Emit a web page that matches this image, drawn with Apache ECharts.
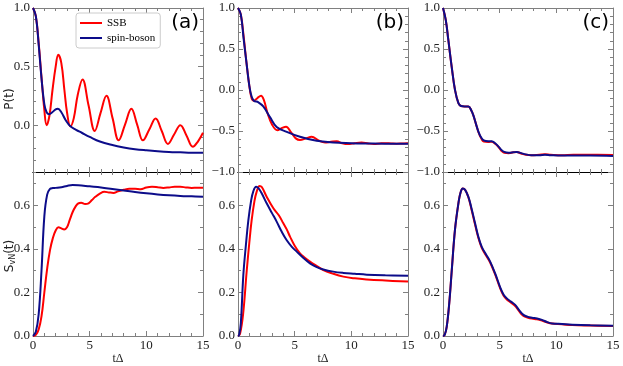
<!DOCTYPE html>
<html style="height: 100%">
<head>
<meta charset="utf-8">
<script src="https://cdn.jsdelivr.net/npm/echarts@6/dist/echarts.min.js"></script>
</head>
<body style="height: 100%; margin: 0; background: #fff">
<div id="container" style="width: 623px; height: 366px"></div>
<script>
// time axis tick labels
var xTicks = [0, 5, 10, 15];

// P(t) tick values
var yMajorPa = [0, 0.5, 1.0];
var yMinorPa = [-0.4, -0.3, -0.2, -0.1, 0.1, 0.2, 0.3, 0.4, 0.6, 0.7, 0.8, 0.9];
var yMajorP = [-1.0, -0.5, 0, 0.5, 1.0];
var yMinorP = [-0.9, -0.8, -0.7, -0.6, -0.4, -0.3, -0.2, -0.1, 0.1, 0.2, 0.3, 0.4, 0.6, 0.7, 0.8, 0.9];
// S_vN(t) tick values
var yMajorS = [0, 0.2, 0.4, 0.6];
var yMinorS = [0.1, 0.3, 0.5, 0.7];

var seriesNames = ['SSB', 'spin-boson'];
var panelTags = ['(a)', '(b)', '(c)'];

// panel (a)
var aP_SSB = [[0,1],[0.25,0.93],[0.5,0.7],[0.75,0.41],[1.0,0.13],[1.2,0.0],[1.45,0.08],[1.72,0.3],[2.0,0.5],[2.23,0.6],[2.5,0.53],[2.77,0.3],[3.0,0.11],[3.3,-0.01],[3.6,0.06],[3.95,0.26],[4.37,0.39],[4.9,0.17],[5.45,-0.05],[5.95,0.1],[6.48,0.25],[7.02,0.06],[7.56,-0.13],[8.12,0.005],[8.68,0.14],[9.19,0.005],[9.7,-0.13],[10.26,-0.037],[10.82,0.057],[11.36,-0.05],[11.9,-0.16],[12.45,-0.08],[13.0,0.0],[13.55,-0.09],[14.1,-0.185],[14.55,-0.14],[15,-0.065]];
var aP_SB = [[0,1],[0.25,0.93],[0.5,0.69],[0.75,0.4],[1.0,0.18],[1.2,0.11],[1.41,0.094],[1.7,0.11],[2.0,0.135],[2.2,0.14],[2.5,0.11],[2.9,0.04],[3.3,-0.01],[3.8,-0.04],[4.3,-0.065],[5.0,-0.1],[5.9,-0.14],[7.0,-0.17],[8.0,-0.19],[9.0,-0.205],[10,-0.215],[11,-0.223],[12,-0.229],[13,-0.232],[14,-0.235],[15,-0.236]];
var aS_SSB = [[0,0],[0.25,0.005],[0.5,0.03],[0.75,0.09],[1.0,0.2],[1.25,0.31],[1.5,0.395],[1.75,0.45],[2.0,0.485],[2.25,0.5],[2.5,0.495],[2.75,0.49],[3.0,0.5],[3.25,0.535],[3.5,0.57],[3.75,0.595],[4.0,0.61],[4.25,0.613],[4.6,0.607],[4.9,0.61],[5.2,0.625],[5.5,0.64],[5.9,0.655],[6.3,0.663],[6.7,0.66],[7.1,0.658],[7.5,0.665],[8.0,0.672],[8.5,0.677],[9.0,0.677],[9.5,0.675],[10.0,0.683],[10.5,0.686],[11,0.684],[11.5,0.681],[12,0.683],[12.5,0.686],[13,0.686],[13.5,0.683],[14,0.681],[14.5,0.682],[15,0.682]];
var aS_SB = [[0,0],[0.25,0.02],[0.5,0.1],[0.75,0.3],[1.0,0.55],[1.25,0.65],[1.5,0.676],[1.75,0.68],[2.0,0.681],[2.5,0.684],[3.0,0.69],[3.5,0.694],[4.0,0.693],[5.0,0.688],[6.0,0.683],[7.0,0.676],[8.0,0.669],[9.0,0.662],[10,0.656],[11,0.651],[12,0.647],[13,0.644],[14,0.642],[15,0.64]];

// panel (b)
var bP_SSB = [[0,1],[0.25,0.92],[0.5,0.65],[0.75,0.33],[1.0,0.05],[1.2,-0.1],[1.4,-0.13],[1.7,-0.1],[2.03,-0.07],[2.3,-0.13],[2.6,-0.28],[3.0,-0.42],[3.47,-0.49],[3.85,-0.465],[4.24,-0.447],[4.7,-0.52],[5.1,-0.59],[5.47,-0.61],[6.0,-0.59],[6.5,-0.57],[7.1,-0.615],[7.68,-0.64],[8.2,-0.632],[8.71,-0.626],[9.2,-0.65],[9.7,-0.66],[10.3,-0.648],[10.9,-0.64],[11.5,-0.652],[12,-0.658],[12.5,-0.652],[13,-0.648],[13.5,-0.652],[14,-0.655],[14.5,-0.652],[15,-0.65]];
var bP_SB = [[0,1],[0.25,0.92],[0.5,0.62],[0.75,0.33],[1.0,0.05],[1.2,-0.08],[1.4,-0.13],[1.8,-0.15],[2.23,-0.2],[2.82,-0.33],[3.41,-0.45],[4.3,-0.51],[5.47,-0.57],[6.94,-0.62],[8.4,-0.64],[10,-0.648],[11.4,-0.652],[13,-0.655],[15,-0.655]];
var bS_SSB = [[0,0],[0.18,0.01],[0.45,0.1],[0.77,0.3],[1.0,0.43],[1.2,0.53],[1.45,0.62],[1.65,0.664],[1.9,0.69],[2.1,0.685],[2.53,0.64],[3.12,0.587],[3.6,0.555],[4.0,0.518],[4.3,0.49],[4.59,0.457],[5.0,0.415],[5.47,0.38],[5.9,0.36],[6.35,0.342],[7.0,0.32],[7.53,0.303],[8.3,0.288],[9.3,0.273],[10.3,0.265],[11.36,0.26],[13,0.255],[15,0.25]];
var bS_SB = [[0,0],[0.1,0.005],[0.25,0.06],[0.47,0.28],[0.7,0.42],[0.91,0.53],[1.15,0.62],[1.35,0.665],[1.6,0.686],[1.8,0.68],[2.1,0.655],[2.53,0.61],[3.0,0.565],[3.41,0.526],[3.85,0.48],[4.3,0.44],[4.75,0.41],[5.18,0.388],[5.75,0.36],[6.35,0.334],[6.9,0.318],[7.53,0.306],[8.4,0.296],[9.3,0.29],[10.3,0.286],[11.36,0.282],[13,0.279],[15,0.277]];

// panel (c)
var cP_SSB = [[0,1],[0.25,0.85],[0.47,0.61],[0.77,0.28],[1.06,0.0],[1.36,-0.16],[1.6,-0.195],[1.9,-0.2],[2.24,-0.2],[2.5,-0.25],[2.68,-0.31],[2.9,-0.41],[3.13,-0.515],[3.37,-0.59],[3.6,-0.63],[4.0,-0.635],[4.3,-0.63],[4.6,-0.655],[4.9,-0.695],[5.15,-0.74],[5.4,-0.765],[5.8,-0.77],[6.2,-0.76],[6.5,-0.755],[6.9,-0.775],[7.3,-0.79],[7.8,-0.795],[8.5,-0.79],[9.0,-0.785],[9.5,-0.79],[10.5,-0.795],[11.5,-0.79],[13,-0.79],[15,-0.792]];
var cP_SB = [[0,1],[0.25,0.85],[0.47,0.61],[0.77,0.28],[1.06,0.0],[1.36,-0.16],[1.6,-0.195],[1.9,-0.2],[2.24,-0.2],[2.5,-0.25],[2.68,-0.31],[2.9,-0.41],[3.13,-0.51],[3.37,-0.58],[3.6,-0.615],[4.0,-0.625],[4.3,-0.625],[4.6,-0.65],[4.9,-0.69],[5.15,-0.73],[5.4,-0.755],[5.8,-0.765],[6.2,-0.76],[6.5,-0.755],[6.9,-0.77],[7.3,-0.785],[7.8,-0.795],[8.5,-0.795],[9.0,-0.79],[9.5,-0.795],[10.5,-0.8],[11.5,-0.8],[13,-0.8],[15,-0.805]];
var cS_SSB = [[0,0],[0.15,0.005],[0.33,0.043],[0.55,0.15],[0.77,0.3],[1.06,0.49],[1.36,0.61],[1.55,0.66],[1.75,0.678],[1.95,0.672],[2.24,0.638],[2.5,0.585],[2.83,0.512],[3.1,0.455],[3.42,0.405],[3.8,0.37],[4.16,0.338],[4.6,0.283],[5.04,0.22],[5.35,0.185],[5.63,0.168],[6.0,0.153],[6.37,0.138],[6.7,0.115],[7.1,0.092],[7.5,0.084],[7.85,0.08],[8.3,0.077],[8.73,0.071],[9.2,0.062],[9.62,0.057],[10.5,0.054],[11.4,0.05],[13,0.048],[15,0.046]];
var cS_SB = [[0,0],[0.15,0.005],[0.33,0.043],[0.55,0.15],[0.77,0.3],[1.06,0.49],[1.36,0.61],[1.55,0.66],[1.75,0.678],[1.95,0.672],[2.24,0.64],[2.5,0.59],[2.83,0.518],[3.1,0.46],[3.42,0.41],[3.8,0.375],[4.16,0.342],[4.6,0.288],[5.04,0.225],[5.35,0.19],[5.63,0.173],[6.0,0.158],[6.37,0.143],[6.7,0.12],[7.1,0.097],[7.5,0.088],[7.85,0.084],[8.3,0.08],[8.73,0.074],[9.2,0.064],[9.62,0.058],[10.5,0.055],[11.4,0.052],[13,0.049],[15,0.047]];

var panels = [
    [[aP_SSB, aP_SB], [aS_SSB, aS_SB]],
    [[bP_SSB, bP_SB], [bS_SSB, bS_SB]],
    [[cP_SSB, cP_SB], [cS_SSB, cS_SB]]
];

var dom = document.getElementById('container');
var myChart = echarts.init(dom, null, {renderer: 'canvas'});

var GREY = '#808080';
var lineColors = ['#ff0000', '#0c0c8a'];
var colLeft = [33, 238, 443];
var serif = 'Liberation Serif';

function fmt(v) {
    return v.toFixed(1).replace('-', '\u2212');
}

var grids = [], xAxes = [], yAxes = [], series = [];

for (var c = 0; c < 3; c++) {
    for (var r = 0; r < 2; r++) {
        var gi = grids.length;
        grids.push({
            left: colLeft[c], width: 170,
            top: r === 0 ? 8 : 172,
            height: r === 0 ? 164 : 165
        });

        // x axes: bottom (used by the series) and mirrored top
        var xi = xAxes.length;
        ['bottom', 'top'].forEach(function (pos) {
            var dark = (r === 0 && pos === 'bottom') || (r === 1 && pos === 'top');
            var showLab = r === 1 && pos === 'bottom';
            xAxes.push({
                gridIndex: gi, type: 'value', position: pos,
                min: 0, max: 15, interval: 5,
                name: showLab ? 't\u0394' : '',
                nameLocation: 'middle', nameGap: 17,
                nameTextStyle: {fontFamily: serif, fontSize: 12, color: '#222'},
                axisLine: {show: true, onZero: false, lineStyle: {color: dark ? '#000' : GREY, width: 1}},
                axisTick: {show: true, inside: true, length: 5, lineStyle: {color: GREY}},
                minorTick: {show: true, splitNumber: 5, length: 3, lineStyle: {color: GREY}},
                axisLabel: {show: showLab, margin: 3, fontFamily: serif, fontSize: 13, color: '#222',
                    customValues: xTicks},
                splitLine: {show: false}
            });
        });

        var ymin, ymax, major, minor, labs;
        if (r === 1) {
            ymin = 0; ymax = 0.754; major = yMajorS; minor = yMinorS; labs = yMajorS;
        } else if (c === 0) {
            ymin = -0.4; ymax = 1.0; major = yMajorPa; minor = yMinorPa; labs = yMajorPa;
        } else {
            ymin = -1.0; ymax = 1.0; major = yMajorP; minor = yMinorP; labs = yMajorP;
        }

        var yi = yAxes.length;
        ['left', 'right'].forEach(function (pos) {
            yAxes.push({
                gridIndex: gi, type: 'value', position: pos, min: ymin, max: ymax,
                axisLine: {show: true, onZero: false, lineStyle: {color: GREY, width: 1}},
                axisTick: {show: true, inside: true, length: 5, customValues: major, lineStyle: {color: GREY}},
                axisLabel: {show: pos === 'left', customValues: labs, formatter: fmt, margin: 3,
                    fontFamily: serif, fontSize: 13, color: '#222'},
                splitLine: {show: false}
            });
            yAxes.push({
                gridIndex: gi, type: 'value', position: pos, min: ymin, max: ymax,
                axisLine: {show: false, onZero: false},
                axisTick: {show: true, inside: true, length: 3, customValues: minor, lineStyle: {color: GREY}},
                axisLabel: {show: false},
                splitLine: {show: false}
            });
        });

        panels[c][r].forEach(function (d, k) {
            series.push({
                name: seriesNames[k], type: 'line',
                xAxisIndex: xi, yAxisIndex: yi,
                data: d, smooth: 0.4, symbol: 'none', showSymbol: false,
                lineStyle: {color: lineColors[k], width: 2},
                itemStyle: {color: lineColors[k]},
                clip: true, silent: true
            });
        });
    }
}

var graphic = [];
panelTags.forEach(function (t, c) {
    graphic.push({
        type: 'text', x: colLeft[c] + 166, y: 23,
        style: {text: t, fontFamily: 'DejaVu Sans', fontSize: 20, fill: '#000',
            textAlign: 'right', textVerticalAlign: 'middle'}
    });
});
graphic.push({
    type: 'text', x: 10, y: 99, rotation: Math.PI / 2,
    style: {text: 'P(t)', fontFamily: 'DejaVu Sans', fontSize: 12, fill: '#222',
        textAlign: 'center', textVerticalAlign: 'middle'}
});
graphic.push({
    type: 'text', x: 10, y: 256, rotation: Math.PI / 2,
    style: {text: '{s|S}{sub|vN}{s|(t)}', fill: '#222',
        textAlign: 'center', textVerticalAlign: 'middle',
        rich: {
            s: {fontFamily: 'DejaVu Sans', fontSize: 12, fill: '#222'},
            sub: {fontFamily: 'DejaVu Sans', fontSize: 8, fill: '#222', verticalAlign: 'bottom', padding: [6, 0, 0, 0]}
        }}
});

var option = {
    animation: false,
    backgroundColor: '#fff',
    legend: {
        data: seriesNames.map(function (n) { return {name: n, icon: 'rect'}; }),
        orient: 'vertical',
        left: 76, top: 13,
        padding: [4, 5, 4, 4],
        itemWidth: 22, itemHeight: 2, itemGap: 3,
        borderColor: '#cccccc', borderWidth: 1, borderRadius: 3,
        textStyle: {fontFamily: serif, fontSize: 11, color: '#000', lineHeight: 12}
    },
    grid: grids,
    xAxis: xAxes,
    yAxis: yAxes,
    series: series,
    graphic: graphic
};

myChart.setOption(option);
</script>
</body>
</html>
